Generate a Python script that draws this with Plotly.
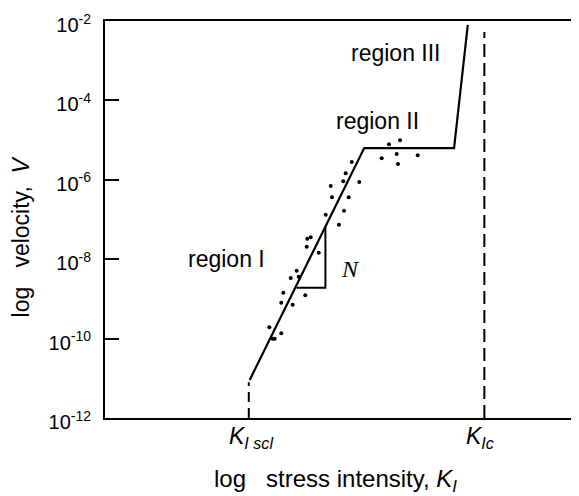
import plotly.graph_objects as go

# ---- data (x: arbitrary log K units, y: log10 of velocity) ----
curve_x = [3.06, 5.48, 7.38, 7.67]
curve_logv = [-11.04, -5.2, -5.2, -2.1]

pts_x = [5.216, 5.089, 5.038, 5.376, 4.772, 4.799, 5.152, 5.053, 4.666, 4.947,
         4.277, 4.349, 4.264, 4.518, 4.053, 3.926, 4.095, 4.235, 3.770, 3.727,
         3.968, 3.474, 3.727, 3.545, 3.588,
         6.004, 6.237, 5.850, 6.167, 6.195, 6.611]
pts_logv = [-5.552, -5.836, -6.038, -6.055, -6.156, -6.441, -6.441, -6.778, -6.879, -7.131,
            -7.484, -7.448, -7.685, -7.836, -8.290, -8.474, -8.441, -8.909, -8.844, -9.096,
            -9.146, -9.715, -9.866, -10.003, -10.003,
            -5.106, -5.005, -5.458, -5.350, -5.602, -5.383]

tri_x = [4.05, 4.66, 4.66]
tri_logv = [-8.72, -8.72, -7.2]

kscl_x = [3.04, 3.04]
kscl_logv = [-12, -11.1]
kic_x = [8.02, 8.02]
kic_logv = [-12, -2.28]

ytick_exp = [-2, -4, -6, -8, -10, -12]
ytick_text = ["10<sup>%d</sup>" % e for e in ytick_exp]

fig = go.Figure()
black = "black"
fig.add_trace(go.Scatter(x=curve_x, y=[10**v for v in curve_logv], mode="lines",
                         line=dict(color=black, width=2.2)))
fig.add_trace(go.Scatter(x=tri_x, y=[10**v for v in tri_logv], mode="lines",
                         line=dict(color=black, width=2)))
fig.add_trace(go.Scatter(x=pts_x, y=[10**v for v in pts_logv], mode="markers",
                         marker=dict(color=black, size=4)))
fig.add_trace(go.Scatter(x=kscl_x, y=[10**v for v in kscl_logv], mode="lines",
                         line=dict(color=black, width=2, dash="10px,6px")))
fig.add_trace(go.Scatter(x=kic_x, y=[10**v for v in kic_logv], mode="lines",
                         line=dict(color=black, width=2, dash="13px,6px")))

font = "Liberation Sans, Arial, sans-serif"
serif = "Liberation Serif, Times New Roman, serif"
ann = []
ann.append(dict(x=6.15, y=-2.8, text="region III", font=dict(size=23)))
ann.append(dict(x=5.76, y=-4.52, text="region II", font=dict(size=23)))
ann.append(dict(x=2.57, y=-8.0, text="region I", font=dict(size=23)))
ann.append(dict(x=5.18, y=-8.25, text="<i>N</i>", font=dict(size=24, family=serif)))
annotations = []
for a in ann:
    a.update(xref="x", yref="y", showarrow=False)
    a["font"].setdefault("family", font)
    a["font"]["color"] = black
    annotations.append(a)
kl = [dict(x=3.08, text="<i>K<sub>I scl</sub></i>"), dict(x=7.93, text="<i>K<sub>Ic</sub></i>")]
for a in kl:
    a.update(xref="x", yref="paper", y=-0.05, yanchor="middle", showarrow=False,
             font=dict(size=23, family=font, color=black))
    annotations.append(a)
annotations.append(dict(xref="paper", yref="paper", x=0.487, y=-0.158, yanchor="middle",
                        text="log\u00a0\u00a0\u00a0stress intensity, <i>K<sub>I</sub></i>",
                        showarrow=False, font=dict(size=24, family=font, color=black)))
annotations.append(dict(xref="paper", yref="paper", x=-0.177, y=0.458, xanchor="center",
                        text="log\u00a0\u00a0\u00a0velocity,\u00a0\u00a0<i>V</i>", textangle=-90,
                        showarrow=False, font=dict(size=23, family=font, color=black)))

fig.update_layout(
    width=571, height=488,
    margin=dict(l=97, r=1, t=13, b=78),
    paper_bgcolor="white", plot_bgcolor="white",
    showlegend=False,
    annotations=annotations,
    font=dict(family=font, color=black, size=18),
    xaxis=dict(range=[0, 10], showgrid=False, zeroline=False, showticklabels=False,
               automargin=False,
               ticks="", showline=True, mirror=True, linecolor=black, linewidth=2),
    yaxis=dict(type="log", range=[-12, -2], showgrid=False, zeroline=False,
               automargin=False,
               tickvals=[10**e for e in ytick_exp], ticktext=ytick_text,
               ticks="inside", ticklen=14, tickwidth=2, tickcolor=black,
               ticklabelstandoff=8, ticklabelshift=4, ticklabeloverflow="allow",
               showline=True, mirror=True, linecolor=black, linewidth=2,
               tickfont=dict(size=20, family=font, color=black)),
)
fig.write_html("out.html")
